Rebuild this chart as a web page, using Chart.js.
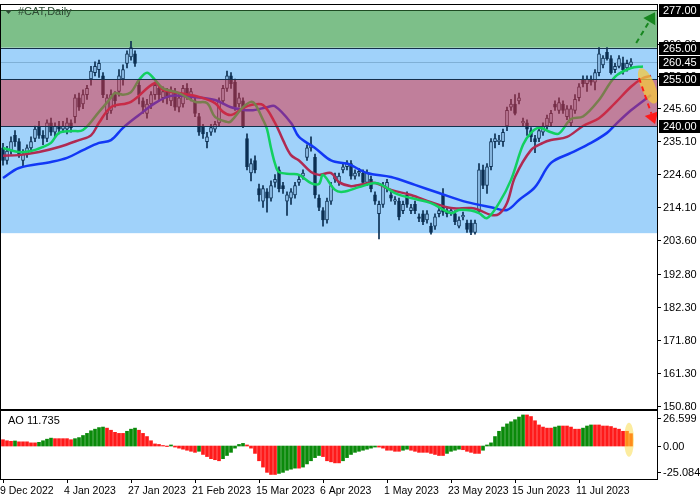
<!DOCTYPE html>
<html><head><meta charset="utf-8">
<script src="https://cdn.jsdelivr.net/npm/chart.js@4"></script>
<style>
body{margin:0;background:#fff;width:700px;height:500px;overflow:hidden;position:relative}
canvas{position:absolute;left:0}
</style></head><body>
<canvas id="main" width="700" height="410" style="top:0"></canvas>
<canvas id="ao" width="700" height="90" style="top:410px"></canvas>
<script>
// ---- data ----
const opens=[233,229,232,237,235,229,231,233,236,240,237,236,241,238,240,239,239,241,243,249,247,250,255,257,258,256,244,245,250,251,255,260,262,263,253,248,244,247,250,252,249,251,248,251,246,247,252,250,248,243,240,235,238,239,241,248,252,256,254,247,248,236,225,229,220,216,219,217,222,226,221,216,217,218,222,224,230,233,230,217,213,210,216,223,222,226,227,228,224,225,225,222,223,218,212,215,220,218,216,216,213,218,213,215,211,212,210,208,208,212,218,213,212.5,212,208,211,209,209,206,213,226,221,227,235,235,235,240,246,247,248,241,241,238.5,236,236,238,240,241,247,245,247,243,241,245,249,255,253.5,255,254,257,259.5,263.5,261.5,258,259,260,258.5,259.5];
const closes=[229,232,235,235,231,231,233,235,239,237,236,241,238,240,239,240,241,239.5,249,246,250,252,257.5,259,260,250,249,250,248,256,258,263,265,260,250,246,247,250,253,250,251,249,251,246,249,252,250,251,244,238,237.5,236.5,239.5,240.5,248,252,256,253.5,246,249,240,227,228,226,218,220,217,221,223,220,220,218,219,221,223,225,233,234,218,214,210,216,221,224,224,227,228,224,225,225.5,222,225,220,216,215,221,222,217,216.5,211,215,215,214,213,210.5,209.5,212,206,211,213,212.5,212,213,209.5,210,211.5,207,206,209,226,221,227,235,236,235.5,238,245,247,244,249,241.5,239,236.5,235,238.5,240,242.5,244,246,247.5,245,245.5,245.5,248.5,252.5,253.5,255,254,257,263,261.7,261.5,257,259,261.5,258,260,260.45];
const highs=[234.5,233.5,236.5,238.5,236,232.5,234,236.5,240,241.5,238.5,242,242.5,241,241.5,241.5,242.5,242,250,250.5,251.5,253,259,260.5,261,257,250,251.5,251,258,259.5,264,267,264,254.5,249,248.5,251,254,253,252.5,252,252.5,252,250.5,253,253.5,252,249,244,240.5,238,240.5,241.5,249,253,257.5,257,255,250.5,249,237.5,229.5,230.5,221.5,221,220,222.5,224.5,227,222,219,220,222,224,226,234,236.5,231,218,214,217,222,225,225,228,229,229,226,226.5,226,226,224,219,216,222,223,219,217.5,217,216,219,215,216,212,213,213,209,212,214,220,214,214,213,211,212.5,210,210,210,228,227.5,228,236,237.5,237,239,246,248.5,250,250.5,242.5,242,239.5,237,239.5,241,243.5,245,248,249,248,246.5,246.5,250,253.5,256,256,256,258,265,262.5,265,262.5,260,262.5,262,261,261.5];
const lows=[227.5,227.8,231,233.5,230,227,230,232,235,236,234,235,237,236.5,237.5,238,237.5,238,241,245,245.5,248.5,253,256,255.5,249,242,244,246,249.5,253,258.5,261,259,247,244,242.5,245.5,248.5,248,247.5,247,246.5,245,244.5,246,248.5,248,243,237,236,233,237,238,240,247,251,252,245,246,239.5,226,222.5,225,216,214,212.5,216,220.5,219,218.5,211.5,215,217,221,223,229,232,217,213,208,209,215,222,221,225,226,223,223,224,221,221,219,215,204,214,219,216,215,210,212,214,212,212,209.5,208.5,209,205.5,207,211,211.5,211,211.5,208.5,207.5,210,206,205.3,205.5,212,220,218.5,226,233,234,233.5,238.5,245,243.5,247,240,237,235,231.5,235,237,239,240,245,244,244,242,240,244,248,252.5,251,253,251.5,256,258.5,261,256.5,257,258.5,256.5,257.5,258.5];
// Alligator lines: [bar index, price]
const lipsPts=[[0,233],[4,231.7],[7,232],[10,233.3],[12,234.6],[14,237.8],[17,238.4],[20,238.7],[24,244.5],[27,249],[28,250.5],[30,250],[32,250.8],[34,254.7],[36,257],[38,254.7],[40,252],[44,250.5],[48,247.7],[51,247.3],[53,242.9],[56,241.3],[57,241.5],[60,246],[62,247.7],[63,247],[65,242],[66,239],[67,233],[68,228],[69,225.3],[72,224.7],[74,224.4],[77,221.8],[79,221.5],[80,224.4],[83,219.6],[85,219],[89,220.5],[93,221.8],[95,221],[98,218.6],[102,217],[107,215.4],[112,212.2],[114,213.2],[117,213],[119,212.2],[121,210.6],[124,215.4],[127,222.8],[130,234],[132,237.8],[134,239.4],[137,238],[139,237.6],[142,242.2],[145,243],[149,248.3],[153,255.7],[157,258.5],[160,259]];
const teethPts=[[0,230.5],[4,230.7],[9,231.7],[14,233.3],[19,235.5],[22,237],[24,241],[27,246],[32,247.7],[38,253.7],[40,251.5],[44,250.5],[49,249.3],[53,247.3],[55,244.5],[57,243.5],[60,245.7],[62,246.7],[65,246.7],[68,241],[70,235.5],[72,230.7],[74,229],[77,225.3],[79,224.4],[82,225],[84,222.1],[87,220.8],[89,221.2],[93,221.8],[97,219.6],[102,218],[107,215.7],[112,213.8],[117,213.8],[119,213.2],[122,211.6],[124,211.9],[126,215.4],[128,223.7],[132,232.3],[135,234.6],[137,235.5],[141,236.5],[145,240],[149,242.5],[153,247.3],[157,252.5],[160,255.3],[162,256]];
const jawPts=[[0,223.4],[4,226.6],[12,228.5],[16,229.8],[20,232.3],[24,234.6],[27,235.5],[30,239.4],[34,243.5],[38,247.3],[42,249.6],[47,249.3],[53,248.3],[57,246],[62,245],[66,246],[68,246.3],[72,241],[74,236.5],[78,233],[82,229],[86,228],[87,227.5],[91,225],[97,223.7],[103,221.2],[109,218.6],[116,215.7],[122,214.1],[126,213.2],[129,216.4],[133,220.5],[137,228.2],[142,231.4],[147,234.6],[151,237.8],[153,240.3],[157,245],[162,249.9]];
const aoValues=[6,5,4.5,4.8,4,4,4,3,3,3.5,5,6.5,7.5,7,7,7,7,6,7,8,10,12,14.5,16,17.5,18,17,15,13,12,12,14,16,17,15,12,9,5,2,1.5,0.5,-0.5,1,-1,-2,-3,-4,-5,-6,-5,-8,-10,-12,-13,-14,-12,-9,-6,-2,1.5,2.5,1,-2,-7,-14,-20,-25,-27,-27,-26,-25,-23,-22,-21,-21,-20,-17,-14,-11,-9,-10,-14,-15,-16,-16,-14,-11,-8,-6,-5,-4,-3,-2,-1,-1,-2,-4,-4,-5,-5,-4,-3,-4,-5,-6,-6,-6,-7,-8,-9,-9,-7,-5,-4,-3,-3.5,-5,-6,-7,-7,-4,1,3,9,14,18,21,23,25,27.5,29.5,29.5,28,24,20,18,17,17,18,19,19,19,18,16,16,17,19,20,20,20,19,19,18.5,17,16,14,14,11.735];
const dateLabels=["9 Dec 2022","4 Jan 2023","27 Jan 2023","21 Feb 2023","15 Mar 2023","6 Apr 2023","1 May 2023","23 May 2023","15 Jun 2023","11 Jul 2023"];
const dateIdx=[0,16,32,48,64,80,96,112,128,144];
const priceTicks=[266.00,256.10,245.60,235.10,224.60,214.10,203.60,192.80,182.30,171.80,161.30,150.80];
const boxedPrices=[277.00,265.00,260.45,255.00,240.00];
const zoneGreen=[265,277], zoneBlue=[205.8,265], zonePink=[240,255], currentPrice=260.45;
const arrowUp=[[158.3,266.5],[163,276.3]], arrowDown=[[159,255.3],[163,240.6]];
const markEllipse=[161.2,252.8];
const aoTicks=[26.599,0,-25.084];
// ---- styles ----
const DARK='#0b2f52', LBLUE='#a0d2fa', FONT='11px "Liberation Sans"', FONT_X='10.5px "Liberation Sans"';
const N=closes.length;
const bodies=[],wicks=[],bodyCol=[];
for(let i=0;i<N;i++){bodies.push({x:i,y:[opens[i],closes[i]]});wicks.push({x:i,y:[lows[i],highs[i]]});bodyCol.push(closes[i]>=opens[i]?LBLUE:DARK);}
const toXY=a=>a.map(p=>({x:p[0],y:p[1]}));
const X0=-0.5,X1=163.5;
function bandRect(ctx,ca,y,a,b,col){const y1=y.getPixelForValue(b),y2=y.getPixelForValue(a);ctx.fillStyle=col;ctx.fillRect(ca.left,y1,ca.right-ca.left,y2-y1);}
function hline(ctx,ca,y,v,col){const p=Math.round(y.getPixelForValue(v))+0.5;ctx.strokeStyle=col;ctx.lineWidth=1;ctx.beginPath();ctx.moveTo(ca.left,p);ctx.lineTo(ca.right,p);ctx.stroke();}
function arrow(ctx,x,y,p0,p1,col){const ax=x.getPixelForValue(p0[0]),ay=y.getPixelForValue(p0[1]),bx=x.getPixelForValue(p1[0]),by=y.getPixelForValue(p1[1]);
 const ang=Math.atan2(by-ay,bx-ax),L=11;const ex=bx-L*Math.cos(ang),ey=by-L*Math.sin(ang);
 ctx.save();ctx.strokeStyle=col;ctx.lineWidth=2;ctx.setLineDash([5,4]);ctx.beginPath();ctx.moveTo(ax,ay);ctx.lineTo(ex,ey);ctx.stroke();ctx.setLineDash([]);
 ctx.fillStyle=col;ctx.beginPath();ctx.moveTo(bx,by);ctx.lineTo(ex+7*Math.cos(ang+Math.PI/2),ey+7*Math.sin(ang+Math.PI/2));ctx.lineTo(ex-7*Math.cos(ang+Math.PI/2),ey-7*Math.sin(ang+Math.PI/2));ctx.closePath();ctx.fill();ctx.restore();}
const mainPlugin={id:'mainDeco',
 beforeDatasetsDraw(c){const ctx=c.ctx,ca=c.chartArea,y=c.scales.y;ctx.save();
  bandRect(ctx,ca,y,zoneBlue[0],zoneBlue[1],LBLUE);
  bandRect(ctx,ca,y,zoneGreen[0],zoneGreen[1],'#7dbf89');
  hline(ctx,ca,y,currentPrice,'#7fb0d6');ctx.restore();},
 afterDatasetsDraw(c){const ctx=c.ctx,ca=c.chartArea,y=c.scales.y,x=c.scales.x;ctx.save();
  bandRect(ctx,ca,y,zonePink[0],zonePink[1],'rgba(224,44,60,0.5)');
  [zoneGreen[0],zonePink[0],zonePink[1]].forEach(v=>hline(ctx,ca,y,v,'#14304c'));
  hline(ctx,ca,y,zoneGreen[1],'#1d4a22');
  ctx.save();ctx.translate(x.getPixelForValue(markEllipse[0]),y.getPixelForValue(markEllipse[1]));ctx.rotate(-0.4);
  ctx.fillStyle='rgba(245,200,60,0.75)';ctx.beginPath();ctx.ellipse(0,0,7,19,0,0,Math.PI*2);ctx.fill();ctx.restore();
  arrow(ctx,x,y,arrowUp[0],arrowUp[1],'#17861f');
  arrow(ctx,x,y,arrowDown[0],arrowDown[1],'#ff1a1a');
  ctx.strokeStyle='#000';ctx.lineWidth=1;ctx.strokeRect(ca.left-0.5,ca.top-0.5,ca.right-ca.left+1,ca.bottom-ca.top+1);
  ctx.font=FONT;ctx.textBaseline='middle';ctx.textAlign='left';ctx.fillStyle='#000';
  priceTicks.forEach(v=>{const p=Math.round(y.getPixelForValue(v));ctx.fillRect(ca.right,p,4,1);ctx.fillText(v.toFixed(2),ca.right+6,p+1);});
  boxedPrices.forEach(v=>{const p=Math.round(y.getPixelForValue(v));ctx.fillStyle='#000';ctx.fillRect(ca.right+2,p-6,700-ca.right-2,13);ctx.fillStyle='#fff';ctx.fillText(v.toFixed(2),ca.right+6,p+1);});
  ctx.fillStyle='#2e4a34';ctx.beginPath();ctx.moveTo(ca.left+4,ca.top+5);ctx.lineTo(ca.left+11,ca.top+5);ctx.lineTo(ca.left+7.5,ca.top+9);ctx.closePath();ctx.fill();
  ctx.fillText('#CAT,Daily',ca.left+17,ca.top+7);
  ctx.restore();}};
new Chart(document.getElementById('main'),{
 data:{datasets:[
  {type:'line',data:toXY(lipsPts),borderColor:'#12d060',borderWidth:2.5,pointRadius:0,tension:0.35,order:0},
  {type:'line',data:toXY(teethPts),borderColor:'#b02a52',borderWidth:2.5,pointRadius:0,tension:0.35,order:0},
  {type:'line',data:toXY(jawPts),borderColor:'#1238f5',borderWidth:2.5,pointRadius:0,tension:0.35,order:0},
  {type:'bar',data:bodies,backgroundColor:bodyCol,borderColor:DARK,borderWidth:1,borderSkipped:false,barThickness:3,grouped:false,order:1},
  {type:'bar',data:wicks,backgroundColor:DARK,borderWidth:0,barThickness:1,grouped:false,order:2}
 ]},
 plugins:[mainPlugin],
 options:{responsive:false,animation:false,events:[],layout:{padding:{left:1,right:43,top:5,bottom:1}},
  plugins:{legend:{display:false},tooltip:{enabled:false}},
  scales:{x:{type:'linear',min:X0,max:X1,display:false,offset:false},y:{min:149.7,max:278.6,display:false}}}
});
const aoCol=aoValues.map((v,i)=>i>=N-2?'#ff8c1a':(i>0&&v>aoValues[i-1]?'#0a8a0a':'#ff1a1a'));
const aoPlugin={id:'aoDeco',
 beforeDatasetsDraw(c){const ctx=c.ctx,x=c.scales.x,y=c.scales.y;ctx.save();
  ctx.fillStyle='rgba(250,220,80,0.55)';ctx.beginPath();ctx.ellipse(x.getPixelForValue(N-1.5),y.getPixelForValue(aoValues[N-1]/2),5,17,0,0,Math.PI*2);ctx.fill();ctx.restore();},
 afterDatasetsDraw(c){const ctx=c.ctx,ca=c.chartArea,x=c.scales.x,y=c.scales.y;ctx.save();
  ctx.strokeStyle='#000';ctx.lineWidth=1;ctx.strokeRect(ca.left-0.5,ca.top+0.5,ca.right-ca.left+1,ca.bottom-ca.top);
  ctx.font=FONT;ctx.fillStyle='#000';ctx.textBaseline='middle';ctx.textAlign='left';
  aoTicks.forEach(v=>{const p=Math.round(y.getPixelForValue(v));ctx.fillRect(ca.right,p,4,1);ctx.fillText(v===0?'0.00':v.toFixed(3),ca.right+6,p+1);});
  ctx.fillText('AO '+aoValues[N-1].toFixed(3),ca.left+7,ca.top+11);
  ctx.font=FONT_X;
  dateIdx.forEach((d,k)=>{const p=Math.round(x.getPixelForValue(d));ctx.fillRect(p,ca.bottom,1,4);ctx.textBaseline='top';ctx.fillText(dateLabels[k],p-3,ca.bottom+7);});
  ctx.restore();}};
new Chart(document.getElementById('ao'),{
 type:'bar',
 data:{datasets:[{data:aoValues.map((v,i)=>({x:i,y:v})),backgroundColor:aoCol,borderWidth:0,barThickness:3,grouped:false}]},
 plugins:[aoPlugin],
 options:{responsive:false,animation:false,events:[],layout:{padding:{left:1,right:43,top:0,bottom:21}},
  plugins:{legend:{display:false},tooltip:{enabled:false}},
  scales:{x:{type:'linear',min:X0,max:X1,display:false,offset:false},y:{min:-31.3,max:34.2,display:false}}}
});
</script></body></html>
